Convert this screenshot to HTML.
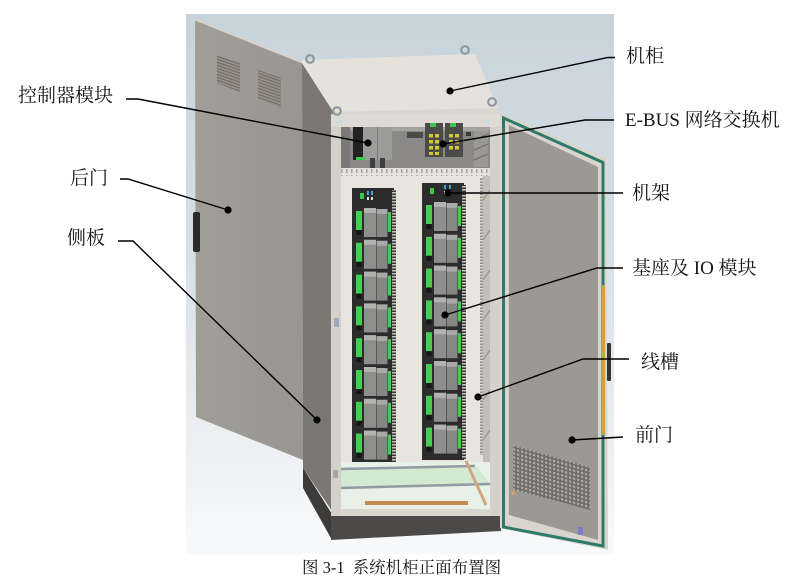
<!DOCTYPE html>
<html><head><meta charset="utf-8">
<style>
html,body{margin:0;padding:0;background:#fff;}
svg{display:block}
text{font-family:"Liberation Serif","Noto Serif CJK SC",serif;fill:#151515;}
</style></head><body>
<svg width="795" height="586" viewBox="0 0 795 586" xmlns="http://www.w3.org/2000/svg">
<defs>
<linearGradient id="bg" x1="0" y1="0" x2="0" y2="1">
<stop offset="0" stop-color="#c7d3db"/>
<stop offset="0.45" stop-color="#d8e0e6"/>
<stop offset="0.8" stop-color="#ecf0f3"/>
<stop offset="1" stop-color="#f8f9fa"/>
</linearGradient>
<linearGradient id="bd" x1="0" y1="0" x2="1" y2="0">
<stop offset="0" stop-color="#a19d97"/>
<stop offset="1" stop-color="#99958f"/>
</linearGradient>
<pattern id="louv" width="4" height="3" patternUnits="userSpaceOnUse" patternTransform="skewY(19)">
<rect width="4" height="3" fill="#958f87"/>
<rect y="2" width="4" height="1" fill="#6e6a64"/>
</pattern>
<pattern id="grille" width="4" height="4" patternUnits="userSpaceOnUse" patternTransform="skewY(16)">
<rect width="4" height="4" fill="#706d69"/>
<rect x="1" y="1" width="2.2" height="2.2" fill="#b2afa9"/>
</pattern>
<pattern id="rib" width="4" height="3" patternUnits="userSpaceOnUse">
<rect width="4" height="3" fill="#3a3a3a"/>
<rect width="4" height="1.5" fill="#c4c1ba"/>
</pattern>
<pattern id="notch" width="5" height="6" patternUnits="userSpaceOnUse">
<rect width="5" height="6" fill="#e4e2db"/>
<rect x="1" y="1" width="1.5" height="4" fill="#a9a7a1"/>
</pattern>
<g id="m">
<rect x="4" y="3" width="6" height="19" fill="#43d052"/>
<rect x="4.5" y="22" width="5" height="5" fill="#151515"/>
<rect x="12" y="0" width="12" height="29" fill="#8e8e8c"/>
<rect x="24.5" y="1" width="11" height="28" fill="#868684"/>
<rect x="12" y="0" width="12" height="5" fill="#b2b2b0"/>
<rect x="24.5" y="1" width="11" height="5" fill="#a9a9a7"/>
<rect x="36" y="4" width="3" height="20" fill="#49c955"/>
</g>
</defs>

<!-- background -->
<rect x="186" y="14" width="428" height="540" fill="url(#bg)"/>

<!-- back door -->
<polygon points="195,20 302,63 303,460 196,417" fill="url(#bd)"/>
<line x1="195" y1="19.5" x2="302" y2="62.5" stroke="#d6d2cb" stroke-width="2"/>
<polygon points="217,55 240,63 240,92 217,83" fill="url(#louv)"/>
<polygon points="258,70 281,78 281,108 258,99" fill="url(#louv)"/>
<rect x="193" y="212" width="7" height="40" rx="2" fill="#2a2a2a"/>

<!-- side panel -->
<polygon points="302,62 334,112 334,514 303,468" fill="#7b7874"/>
<line x1="302" y1="61" x2="334" y2="111" stroke="#ece9e3" stroke-width="2.2"/>
<!-- side plinth -->
<polygon points="303,468 332,514 332,540 303,488" fill="#3c3b39"/>
<!-- front plinth -->
<polygon points="331,515 501,515 501,531 331,540" fill="#4b4a48"/>

<!-- roof -->
<polygon points="302,60 475,54 498,108 334,112" fill="#e5e2db"/>
<polygon points="334,112 498,108 499,114 333,118" fill="#d9d6cf"/>

<!-- front frame -->
<rect x="331" y="114" width="169" height="402" fill="#d4d1ca"/>
<rect x="331" y="114" width="169" height="13" fill="#dedbd4"/>
<rect x="339" y="120" width="4" height="4" fill="#bfe0ec"/>
<rect x="485" y="119" width="4" height="4" fill="#bfe0ec"/>

<!-- controller area -->
<rect x="341" y="127" width="149" height="41" fill="#8a8987"/>
<rect x="341" y="127" width="149" height="4" fill="#a4a3a0"/>
<rect x="341" y="127" width="9" height="41" fill="#7a7977"/>
<rect x="353" y="127" width="10" height="33" fill="#222"/>
<rect x="363" y="127" width="29" height="33" fill="#9c9c9a"/>
<line x1="377.5" y1="127" x2="377.5" y2="160" stroke="#7c7c7a" stroke-width="1"/>
<rect x="356" y="157" width="9" height="3" fill="#3cc84a"/>
<rect x="370" y="158" width="5" height="12" fill="#3f3f3f"/>
<rect x="380" y="158" width="5" height="12" fill="#3f3f3f"/>
<rect x="407" y="132" width="16" height="6" fill="#4a4a4a"/>
<rect x="425" y="123" width="18" height="34" fill="#4b4b49"/>
<rect x="445" y="123" width="18" height="34" fill="#4b4b49"/>
<rect x="430" y="123" width="6" height="4" fill="#3cc84a"/>
<rect x="450" y="123" width="6" height="4" fill="#3cc84a"/>
<g fill="#d8c63a">
<rect x="429" y="134" width="4" height="3.5"/><rect x="435" y="134" width="4" height="3.5"/>
<rect x="429" y="140" width="4" height="3.5"/><rect x="435" y="140" width="4" height="3.5"/>
<rect x="429" y="146" width="4" height="3.5"/><rect x="435" y="146" width="4" height="3.5"/>
<rect x="429" y="152" width="4" height="3"/><rect x="435" y="152" width="4" height="3"/>
<rect x="449" y="134" width="4" height="3.5"/><rect x="455" y="134" width="4" height="3.5"/>
<rect x="449" y="140" width="4" height="3.5"/><rect x="455" y="140" width="4" height="3.5"/>
<rect x="449" y="146" width="4" height="3.5"/><rect x="455" y="146" width="4" height="3.5"/>
</g>
<rect x="466" y="132" width="5" height="4" fill="#3a3a3a"/>
<rect x="474" y="131" width="14" height="36" fill="#9a9996"/>
<g stroke="#6c6b69" stroke-width="1">
<line x1="474" y1="140" x2="488" y2="134"/><line x1="474" y1="150" x2="488" y2="144"/><line x1="474" y1="160" x2="488" y2="154"/>
</g>

<!-- rack -->
<rect x="341" y="168" width="149" height="295" fill="#e7e5de"/>
<rect x="341" y="168" width="149" height="8" fill="url(#notch)"/>
<rect x="483" y="176" width="7" height="287" fill="#c2bfb8"/>
<g stroke="#8f8c86" stroke-width="1">
<line x1="483" y1="200" x2="490" y2="190"/><line x1="483" y1="240" x2="490" y2="230"/><line x1="483" y1="280" x2="490" y2="270"/>
<line x1="483" y1="320" x2="490" y2="310"/><line x1="483" y1="360" x2="490" y2="350"/><line x1="483" y1="400" x2="490" y2="390"/>
<line x1="483" y1="440" x2="490" y2="430"/>
</g>
<rect x="480" y="178" width="3" height="277" fill="url(#rib)" opacity="0.5"/>

<!-- module columns -->
<rect x="352" y="188" width="42" height="275" fill="#2c2c2c"/>
<rect x="422" y="183" width="42" height="277" fill="#2c2c2c"/>
<rect x="392" y="190" width="4" height="272" fill="url(#rib)"/>
<rect x="462" y="185" width="4" height="274" fill="url(#rib)"/>
<rect x="360" y="193" width="4" height="6" fill="#3ec84a"/>
<rect x="367" y="191" width="2" height="4" fill="#4aa3d8"/><rect x="371" y="191" width="2" height="4" fill="#4aa3d8"/>
<rect x="367" y="197" width="2" height="3" fill="#ddd"/><rect x="371" y="197" width="2" height="3" fill="#ddd"/>
<rect x="430" y="188" width="4" height="6" fill="#3ec84a"/>
<rect x="444" y="185" width="2" height="4" fill="#4aa3d8"/><rect x="449" y="185" width="2" height="4" fill="#4aa3d8"/>
<rect x="444" y="191" width="2" height="3" fill="#ddd"/>

<use href="#m" x="352" y="208"/><use href="#m" x="352" y="239.8"/><use href="#m" x="352" y="271.6"/><use href="#m" x="352" y="303.4"/>
<use href="#m" x="352" y="335.2"/><use href="#m" x="352" y="367"/><use href="#m" x="352" y="398.8"/><use href="#m" x="352" y="430.6"/>
<use href="#m" x="422" y="202"/><use href="#m" x="422" y="233.8"/><use href="#m" x="422" y="265.6"/><use href="#m" x="422" y="297.4"/>
<use href="#m" x="422" y="329.2"/><use href="#m" x="422" y="361"/><use href="#m" x="422" y="392.8"/><use href="#m" x="422" y="424.6"/>

<!-- floor -->
<rect x="341" y="462" width="149" height="48" fill="#e8f1e8"/>
<polygon points="341,470 478,467 490,484 341,488" fill="#d2ead2"/>
<line x1="341" y1="469" x2="475" y2="466" stroke="#939ba2" stroke-width="2.5"/>
<line x1="341" y1="488" x2="490" y2="484" stroke="#939ba2" stroke-width="2.5"/>
<rect x="365" y="501" width="103" height="4" fill="#c78a4e"/>
<line x1="466" y1="461" x2="486" y2="505" stroke="#cfa682" stroke-width="3"/>
<rect x="341" y="509" width="149" height="7" fill="#d9d6cf"/>
<rect x="334" y="318" width="5" height="9" fill="#9aaabb"/>
<rect x="333" y="470" width="5" height="8" fill="#a9a7a2"/>

<!-- front door -->
<polygon points="500,113 606,158 608,550 500,528" fill="#d9d5cc"/>
<polygon points="503.5,118 603,162.5 603,546 503.5,527" fill="none" stroke="#2f7a6a" stroke-width="3"/>
<polygon points="509,125 598,167 598,540 509,515" fill="#9c9995"/>
<polygon points="513,445 590,467 590,510 513,490" fill="url(#grille)"/>
<rect x="602" y="285" width="3" height="150" fill="#c9a33c"/>
<rect x="607" y="343" width="4" height="38" rx="1.5" fill="#333"/>
<rect x="578" y="527" width="5" height="8" fill="#7d7cc9"/>
<circle cx="513" cy="493" r="2" fill="#d9a070"/>

<!-- eye bolts -->
<g fill="none" stroke="#8e9aa3" stroke-width="2.2">
<circle cx="310" cy="59" r="3.8"/><circle cx="465" cy="50" r="3.8"/>
<circle cx="337" cy="111" r="3.8"/><circle cx="492" cy="102" r="3.8"/>
</g>

<!-- leaders -->
<g fill="none" stroke="#000" stroke-width="1.4">
<polyline points="126,99 138,99 368,143"/>
<polyline points="120,179 128,179 228,210"/>
<polyline points="118,241 133,241 317,420"/>
<polyline points="450,91 608,57.5 615,57.5"/>
<polyline points="443,144 585,120 614,120"/>
<polyline points="448,193 623,193"/>
<polyline points="445,315 597,268 623,268"/>
<polyline points="478,397 583,359 629,359"/>
<polyline points="572,440 623,437"/>
</g>
<g fill="#000">
<circle cx="368" cy="143" r="3.6"/><circle cx="228" cy="210" r="3.6"/><circle cx="317" cy="420" r="3.6"/>
<circle cx="450" cy="91" r="3.6"/><circle cx="443" cy="144" r="3.6"/><circle cx="448" cy="193" r="3.6"/>
<circle cx="445" cy="315" r="3.6"/><circle cx="478" cy="397" r="3.6"/><circle cx="572" cy="440" r="3.6"/>
</g>

<!-- labels -->
<g font-size="19">
<text x="18" y="101.5">控制器模块</text>
<text x="70" y="184">后门</text>
<text x="67" y="244">侧板</text>
<text x="626" y="62">机柜</text>
<text x="625" y="126">E-BUS 网络交换机</text>
<text x="632" y="199">机架</text>
<text x="632" y="274">基座及 IO 模块</text>
<text x="641" y="368">线槽</text>
<text x="635" y="441">前门</text>
</g>
<text x="302" y="573" font-size="16.5">图 3-1<tspan dx="8">系统机柜正面布置图</tspan></text>
</svg>
</body></html>
